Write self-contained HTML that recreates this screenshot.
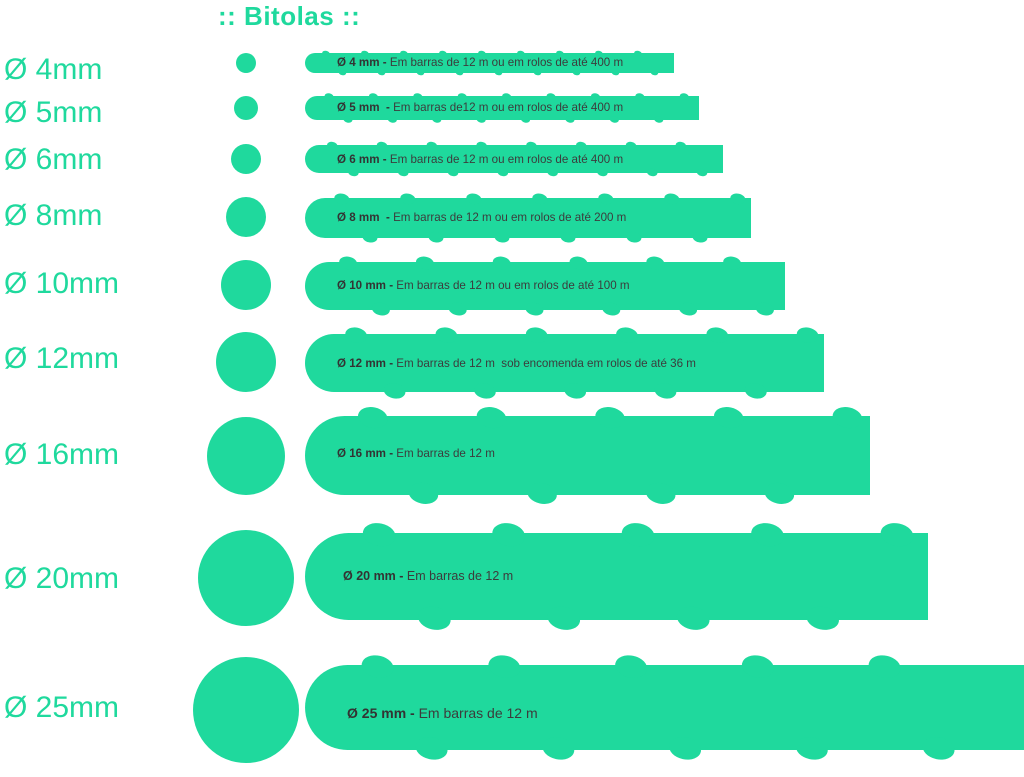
<!DOCTYPE html>
<html><head><meta charset="utf-8"><style>
body{margin:0;width:1024px;height:777px;background:#fff;position:relative;overflow:hidden;font-family:"Liberation Sans",sans-serif}
svg{position:absolute;left:0;top:0}
.l{position:absolute;left:4px;color:#1fd99d;font-size:30px;line-height:1;transform:translateY(-50%)}
.t{position:absolute;color:#3c3c3c;font-size:11.6px;line-height:1;transform:translateY(-50%);white-space:nowrap}
.t b{color:#333}
h1{position:absolute;left:218px;top:1px;margin:0;color:#1fd99d;font-size:26px;font-weight:bold;letter-spacing:0.5px}
</style></head><body>
<svg id="s" width="1024" height="777"></svg>
<h1>:: Bitolas ::</h1>
<div class="l" style="top:70px">Ø 4mm</div>
<div class="l" style="top:113px">Ø 5mm</div>
<div class="l" style="top:160px">Ø 6mm</div>
<div class="l" style="top:216px">Ø 8mm</div>
<div class="l" style="top:284px">Ø 10mm</div>
<div class="l" style="top:359px">Ø 12mm</div>
<div class="l" style="top:455px">Ø 16mm</div>
<div class="l" style="top:579px">Ø 20mm</div>
<div class="l" style="top:708px">Ø 25mm</div>
<div class="t" style="left:337px;top:63px"><b>Ø 4 mm -</b> Em barras de 12 m ou em rolos de até 400 m</div>
<div class="t" style="left:337px;top:108px"><b>Ø 5 mm&nbsp; -</b> Em barras de12 m ou em rolos de até 400 m</div>
<div class="t" style="left:337px;top:160px"><b>Ø 6 mm -</b> Em barras de 12 m ou em rolos de até 400 m</div>
<div class="t" style="left:337px;top:218px"><b>Ø 8 mm&nbsp; -</b> Em barras de 12 m ou em rolos de até 200 m</div>
<div class="t" style="left:337px;top:286px"><b>Ø 10 mm -</b> Em barras de 12 m ou em rolos de até 100 m</div>
<div class="t" style="left:337px;top:364px"><b>Ø 12 mm -</b> Em barras de 12 m&nbsp; sob encomenda em rolos de até 36 m</div>
<div class="t" style="left:337px;top:454px"><b>Ø 16 mm -</b> Em barras de 12 m</div>
<div class="t" style="left:343px;top:576px;font-size:12.5px"><b>Ø 20 mm -</b> Em barras de 12 m</div>
<div class="t" style="left:347px;top:713px;font-size:14px"><b>Ø 25 mm -</b> Em barras de 12 m</div>
<script>
var rows=[[63,10,53,73,674],[108,12,96,120,699],[159,15,145,173,723],[217,20,198,238,751],[285,25,262,310,785],[362,30,334,392,824],[456,39,416,495,870],[578,48,533,620,928],[710,53,665,750,1024]];
var g='',C='#1fd99d';
rows.forEach(function(r){
 var cy=r[0],cr=r[1],t=r[2],b=r[3],R=r[4],h=b-t,L=305;
 g+='<circle cx="246" cy="'+cy+'" r="'+cr+'" fill="'+C+'"/>';
 var rr=h/2;
 g+='<path fill="'+C+'" d="M'+(L+rr)+' '+t+'H'+R+'V'+b+'H'+(L+rr)+'A'+rr+' '+rr+' 0 0 1 '+(L+rr)+' '+t+'Z"/>';
 var p=1.35*h+12,off=0.8*h+5,w=0.19*h,hh=0.13*h;
 for(var x=L+off;x<R-w;x+=p){
  g+='<ellipse cx="'+x+'" cy="'+(t+0.02*h)+'" rx="'+w+'" ry="'+hh+'" transform="rotate(12 '+x+' '+t+')" fill="'+C+'"/>';
  var xb=x+0.42*p;
  if(xb<R-w)g+='<ellipse cx="'+xb+'" cy="'+(b-0.02*h)+'" rx="'+w+'" ry="'+hh+'" transform="rotate(12 '+xb+' '+b+')" fill="'+C+'"/>';
 }
});
document.getElementById('s').innerHTML=g;
</script>
</body></html>
